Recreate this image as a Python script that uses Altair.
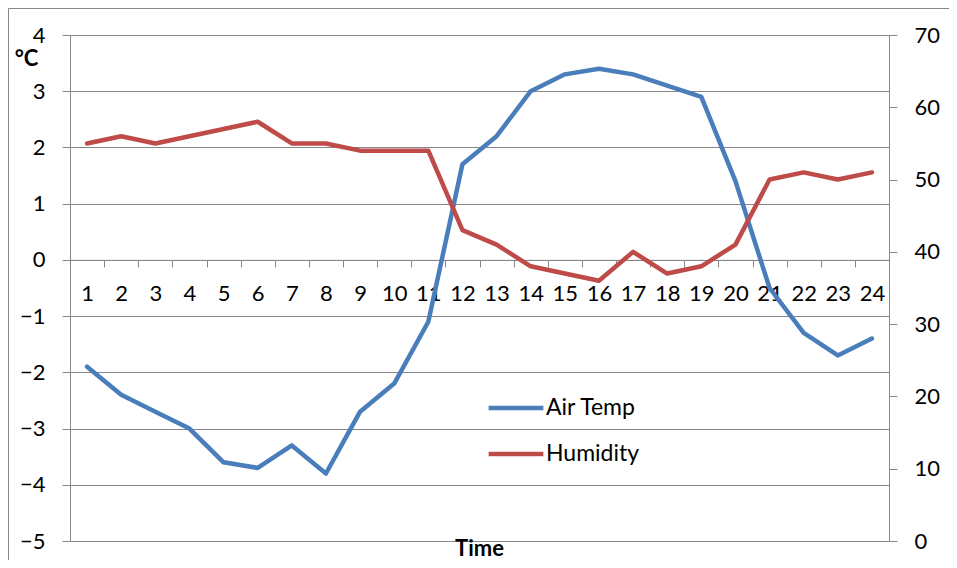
import altair as alt
import pandas as pd

hours = list(range(1, 25))
air_temp = [-1.9, -2.4, -2.7, -3.0, -3.6, -3.7, -3.3, -3.8, -2.7, -2.2, -1.1, 1.7,
            2.2, 3.0, 3.3, 3.4, 3.3, 3.1, 2.9, 1.4, -0.5, -1.3, -1.7, -1.4]
humidity = [55, 56, 55, 56, 57, 58, 55, 55, 54, 54, 54, 43,
            41, 38, 37, 36, 40, 37, 38, 41, 50, 51, 50, 51]
series_names = ["Air Temp", "Humidity"]
series_colors = ["#4A7EBB", "#BE4B48"]
left_ticks = [-5, -4, -3, -2, -1, 0, 1, 2, 3, 4]
right_ticks = [0, 10, 20, 30, 40, 50, 60, 70]

W, H = 819, 506
FONT = "Lato"
GRID = "#868686"

df = pd.DataFrame({
    "hour": hours * 2,
    "series": ["Air Temp"] * 24 + ["Humidity"] * 24,
    "value": air_temp + humidity,
})

color = alt.Color(
    "series:N",
    scale=alt.Scale(domain=series_names, range=series_colors),
    legend=alt.Legend(
        title=None, orient="none", legendX=416, legendY=343,
        symbolType="stroke", symbolSize=3000, symbolStrokeWidth=4.5,
        labelFontSize=23, labelColor="black", labelFont=FONT,
        rowPadding=4, labelOffset=0,
    ),
)

x_enc = alt.X(
    "hour:O",
    scale=alt.Scale(type="band", paddingInner=0, paddingOuter=0),
    axis=alt.Axis(
        title=None, labelAngle=0, offset=-(H * 5 / 9), tickBand="extent",
        tickSize=7, labelPadding=17, labelFontSize=22, labelColor="black",
        labelFont=FONT, domainColor=GRID, tickColor=GRID, grid=False,
    ),
)

base = alt.Chart(df)

temp = base.transform_filter(alt.datum.series == "Air Temp").mark_line(
    strokeWidth=4.5, strokeJoin="round", strokeCap="round"
).encode(
    x=x_enc,
    y=alt.Y(
        "value:Q",
        scale=alt.Scale(domain=[-5, 4], nice=False, zero=False),
        axis=alt.Axis(
            orient="left", values=left_ticks, grid=True, gridColor=GRID,
            domainColor=GRID, tickColor=GRID, tickSize=8, labelPadding=17,
            labelFontSize=22, labelColor="black", labelFont=FONT,
            title="°C", titleAngle=0, titleX=-44, titleY=23, titleAlign="center",
            titleBaseline="middle", titleFontSize=22, titleFontWeight="bold",
            titleFont=FONT, titleColor="black",
        ),
    ),
    color=color,
)

hum = base.transform_filter(alt.datum.series == "Humidity").mark_line(
    strokeWidth=4.5, strokeJoin="round", strokeCap="round"
).encode(
    x=x_enc,
    y=alt.Y(
        "value:Q",
        scale=alt.Scale(domain=[0, 70], nice=False),
        axis=alt.Axis(
            orient="right", values=right_ticks, grid=False,
            domainColor=GRID, tickColor=GRID, tickSize=8, labelPadding=17,
            labelFontSize=22, labelColor="black", labelFont=FONT, title=None,
        ),
    ),
    color=color,
)

time_label = alt.Chart(alt.Data(values=[{"t": "Time"}])).mark_text(
    fontSize=22, fontWeight="bold", font=FONT, color="black", baseline="middle"
).encode(text="t:N", x=alt.value(W / 2), y=alt.value(H + 8))

border = alt.Chart(alt.Data(values=[{"b": 1}])).mark_rect(
    fill=None, stroke=GRID, strokeWidth=1
).encode(x=alt.value(-61.5), x2=alt.value(W + 200), y=alt.value(-26.5), y2=alt.value(H + 200))

chart = alt.layer(border, temp, hum, time_label).resolve_scale(
    y="independent"
).properties(
    width=W, height=H,
    autosize=alt.AutoSizeParams(type="none"),
    padding={"left": 62, "top": 27, "right": 60, "bottom": 19},
).configure_view(stroke=None)

chart.save("out.html", embed_options={"renderer": "svg", "actions": False})
